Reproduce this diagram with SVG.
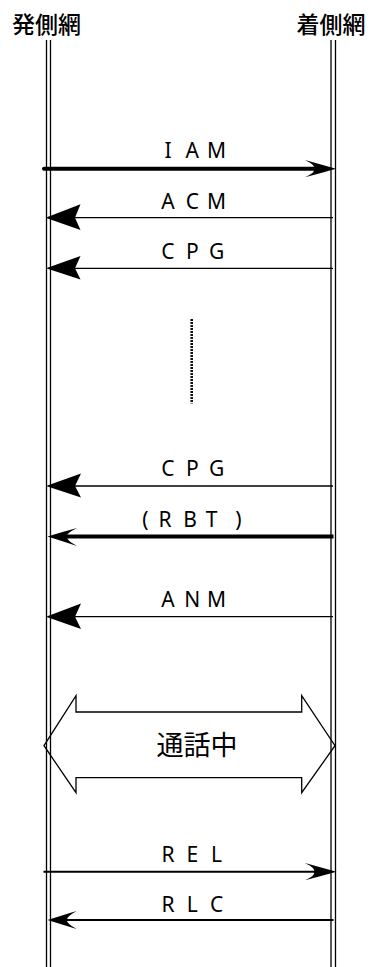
<svg xmlns="http://www.w3.org/2000/svg" width="371" height="967" viewBox="0 0 371 967">
<style>
text{font-family:"Noto Sans CJK JP","Noto Sans",sans-serif;fill:#000}
.t{font-size:23px;text-anchor:middle;font-weight:500}
.l{font-family:"Noto Sans","Noto Sans CJK JP",sans-serif;font-size:21px;text-anchor:middle}
.c{font-size:27px;text-anchor:middle}
.life{stroke:#000;stroke-width:1.3;fill:none}
.thin{stroke:#000;stroke-width:1.3;fill:none}
.mid{stroke:#000;stroke-width:2;fill:none}
.thick{stroke:#000;stroke-width:4;fill:none}
.head{fill:#000;stroke:none}
</style>
<rect width="371" height="967" fill="#fff"/>
<g id="orig">
<text class="t" x="46.5" y="33">発側網</text>
<line class="life" x1="46.5" y1="40" x2="46.5" y2="967"/>
<line class="life" x1="50.5" y1="40" x2="50.5" y2="967"/>
</g>
<g id="term">
<text class="t" x="331" y="33">着側網</text>
<line class="life" x1="331" y1="40" x2="331" y2="967"/>
<line class="life" x1="335.5" y1="40" x2="335.5" y2="967"/>
</g>
<g id="connectors">
<g id="iam">
<line class="thick" x1="44" y1="168.7" x2="322" y2="168.7" stroke-linecap="round"/>
<path class="head" d="M336,168.7 Q321,164.5 305,160 Q316,165.5 314,168.7 Q316,172 305,177.3 Q321,173 336,168.7Z"/>
<text class="l" x="168 180 192.3 204.5 216.6" y="158.3">I A M</text>
</g>
<g id="acm">
<line class="thin" x1="74" y1="217.7" x2="333" y2="217.7"/>
<path class="head" d="M45.5,217.7 L80.5,204.3 L75,217.7 L80.5,230Z"/>
<text class="l" x="168 180 192.3 204.5 216.6" y="209.3">A C M</text>
</g>
<g id="cpg1">
<line class="thin" x1="74" y1="268.3" x2="333" y2="268.3"/>
<path class="head" d="M46,268.3 L80.5,256 L75,268.3 L80.5,279.5Z"/>
<text class="l" x="168 180 192.3 204.5 216.6" y="259.3">C P G</text>
</g>
<line id="dots" x1="191.7" y1="319" x2="191.7" y2="403.5" stroke="#111" stroke-width="2.6" stroke-dasharray="2 1"/>
<g id="cpg2">
<line class="thin" x1="74" y1="486" x2="333" y2="486"/>
<path class="head" d="M46,486 L81,473.5 L75,486 L81,497.5Z"/>
<text class="l" x="168 180 192.3 204.5 216.6" y="476">C P G</text>
</g>
<g id="rbt">
<line class="thick" x1="62" y1="536.5" x2="333.5" y2="536.5"/>
<path class="head" d="M47.5,536.5 Q62,532 77,528 Q66,533.5 67,536.5 Q66,540 77,546 Q62,541 47.5,536.5Z"/>
<text class="l" x="145.5 155 165 177.5 190 201 211.7 225 238.5" y="527">( R B T )</text>
</g>
<g id="anm">
<line class="thin" x1="74" y1="616.7" x2="333" y2="616.7"/>
<path class="head" d="M46,616.7 L81,603.5 L75,616.7 L81,629Z"/>
<text class="l" x="168 180 192.3 204.5 216.6" y="606.7">A N M</text>
</g>
<g id="talk">
<path class="thin" d="M44,745.7 L76,695.7 L76,712 L301.7,712 L301.7,695.7 L335,745.7 L301.7,792.7 L301.7,777.7 L76,777.7 L76,792.7Z"/>
<text class="c" x="197" y="755">通話中</text>
</g>
<g id="rel">
<line class="mid" x1="43.5" y1="871.7" x2="322" y2="871.7"/>
<path class="head" d="M336.5,871.7 Q321,867.5 305,863 Q316,868.5 314,871.7 Q316,875 305,880.3 Q321,876 336.5,871.7Z"/>
<text class="l" x="168 180 192.3 204.5 216.6" y="861.7">R E L</text>
</g>
<g id="rlc">
<line class="mid" x1="62" y1="920" x2="333.5" y2="920"/>
<path class="head" d="M47.5,920 Q62,915.5 76.5,911 Q66,917 67,920 Q66,923 76.5,929 Q62,924.5 47.5,920Z"/>
<text class="l" x="168 180 192.3 204.5 216.6" y="911.7">R L C</text>
</g>
</g>
</svg>
